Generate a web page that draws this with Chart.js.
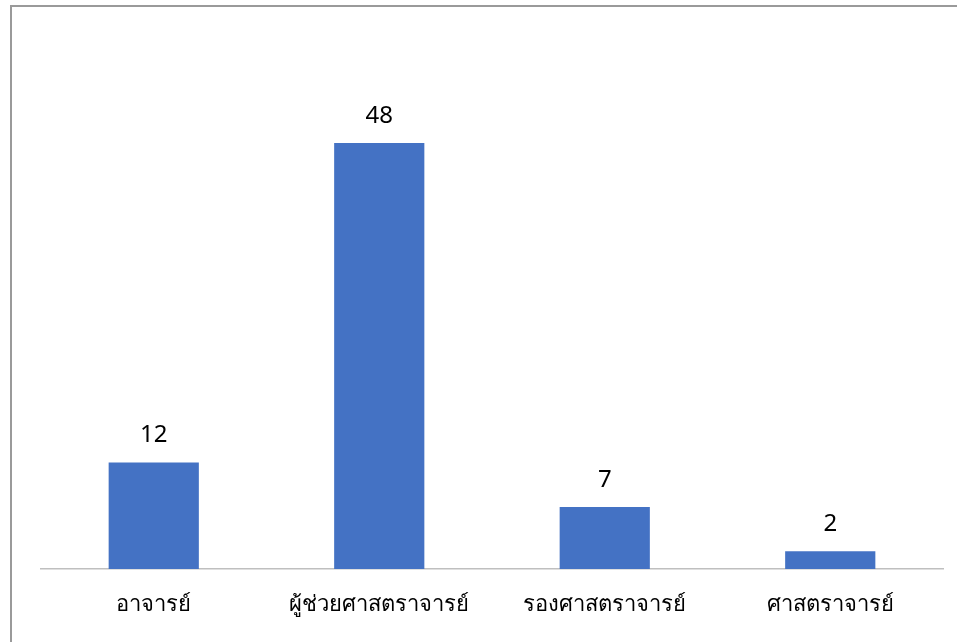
<!DOCTYPE html>
<html>
<head>
<meta charset="utf-8">
<script src="https://cdn.jsdelivr.net/npm/chart.js@4"></script>
<style>
  html, body { margin: 0; padding: 0; background: #fff; overflow: hidden; }
  #wrap { position: relative; width: 957px; height: 642px; overflow: hidden; }
  #frame {
    position: absolute; left: 10px; top: 5px; width: 1000px; height: 635px;
    border-left: 2px solid #9a9a9a; border-top: 2px solid #9a9a9a;
    border-bottom: 1px solid #e8e8e8; pointer-events: none;
  }
  canvas { position: absolute; left: 0; top: 0; }
</style>
</head>
<body>
<div id="wrap">
  <canvas id="rankChart" width="957" height="642"></canvas>
  <div id="frame"></div>
</div>
<script>
// chart data
const categories = ['อาจารย์', 'ผู้ช่วยศาสตราจารย์', 'รองศาสตราจารย์', 'ศาสตราจารย์'];
const counts = [12, 48, 7, 2];

const FONT = "'Noto Sans', 'DejaVu Sans', sans-serif";

// value labels above each bar
const barLabels = {
    id: 'barLabels',
    afterDatasetsDraw(chart) {
        const ctx = chart.ctx;
        const meta = chart.getDatasetMeta(0);
        ctx.save();
        ctx.fillStyle = '#000';
        ctx.font = '24px ' + FONT;
        ctx.textAlign = 'center';
        ctx.textBaseline = 'middle';
        meta.data.forEach((bar, i) => {
            ctx.fillText(String(counts[i]), bar.x, bar.y - 27);
        });
        ctx.restore();
    }
};

function initializeChart() {
    const canvas = document.getElementById('rankChart');
    if (!canvas) {
        console.error('Cannot find chart canvas');
        return;
    }

    new Chart(canvas, {
        type: 'bar',
        data: {
            labels: categories,
            datasets: [{
                data: counts,
                backgroundColor: '#4472c4',
                borderWidth: 0,
                barPercentage: 0.4,
                categoryPercentage: 1.0
            }]
        },
        options: {
            responsive: false,
            animation: false,
            layout: {
                padding: { left: 41, right: 14, top: 36.5, bottom: 0 }
            },
            plugins: {
                legend: { display: false },
                tooltip: { enabled: false }
            },
            scales: {
                x: {
                    grid: { display: false, drawTicks: false },
                    border: { display: true, color: '#bfbfbf', width: 1.5 },
                    ticks: {
                        color: '#000',
                        font: { family: FONT, size: 22 },
                        padding: 23,
                        maxRotation: 0,
                        autoSkip: false
                    },
                    afterFit(scale) {
                        scale.height = 73;
                    }
                },
                y: {
                    display: false,
                    min: 0,
                    max: 60
                }
            }
        },
        plugins: [barLabels]
    });
}

document.addEventListener('DOMContentLoaded', initializeChart);
</script>
</body>
</html>
